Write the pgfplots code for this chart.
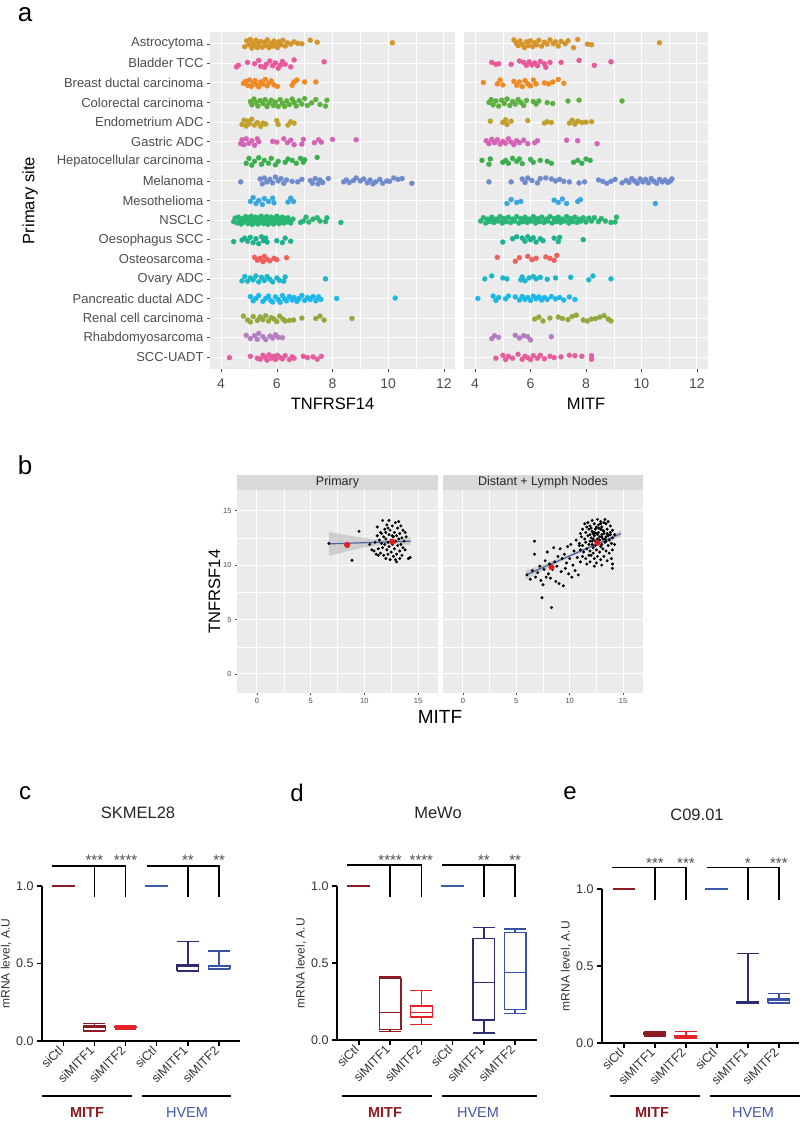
\documentclass[border=0pt]{standalone}
\usepackage{fontspec}
\setmainfont{Liberation Sans}
\usepackage{pgfplots}
\pgfplotsset{compat=1.18}
\newcommand{\fs}[1]{\fontsize{#1}{#1}\selectfont}

\definecolor{ggbg}{HTML}{EBEBEB}
\definecolor{ggstrip}{HTML}{D9D9D9}
\definecolor{gg30}{HTML}{4D4D4D}
\definecolor{cAst}{HTML}{D4962A}
\definecolor{cBla}{HTML}{E9589A}
\definecolor{cBre}{HTML}{EF8A22}
\definecolor{cCol}{HTML}{5DAF40}
\definecolor{cEnd}{HTML}{C2A02C}
\definecolor{cGas}{HTML}{D563B5}
\definecolor{cHep}{HTML}{3DAE4F}
\definecolor{cMel}{HTML}{6F8BCB}
\definecolor{cMes}{HTML}{3BA6DD}
\definecolor{cNSC}{HTML}{2BB574}
\definecolor{cOes}{HTML}{1FB08F}
\definecolor{cOst}{HTML}{EE6060}
\definecolor{cOva}{HTML}{1DB7C9}
\definecolor{cPan}{HTML}{1DB8E8}
\definecolor{cRen}{HTML}{92A93C}
\definecolor{cRha}{HTML}{B47FC1}
\definecolor{cSCC}{HTML}{E45E9E}
\definecolor{cMR}{HTML}{8B1C24}
\definecolor{cRed}{HTML}{E52229}
\definecolor{cBlu}{HTML}{3B5CAB}
\definecolor{cNav}{HTML}{2C2D70}
\definecolor{cBl2}{HTML}{3753A5}
\definecolor{cHV}{HTML}{4556A6}
\definecolor{cFit}{HTML}{4B64A0}
\definecolor{cPt}{HTML}{E41A1C}

\tikzset{br/.style={line width=1.4pt}}
\pgfplotsset{
  every axis/.append style={/pgf/number format/assume math mode=true},
  ggpanel/.style={anchor=north west, scale only axis,
    axis background/.style={fill=ggbg}, axis line style={draw=none},
    tick align=outside, tick pos=left, major tick length=3pt, minor tick length=0pt,
    tick style={gg30, line width=0.5pt},
    major grid style={white, line width=1pt}, minor grid style={white, line width=0.45pt},
    ticklabel style={text=gg30}},
  jit/.style={only marks, mark=*, mark size=2.5pt, mark options={line width=0.3pt}},
  gp/.style={anchor=north west, scale only axis, clip=false,
    axis x line=bottom, axis y line=left, axis line style={-, line width=1.3pt},
    xmin=0.32, xmax=6.67, ymin=0, ymax=1,
    ytick={0,0.5,1}, yticklabels={0.0,0.5,1.0},
    xtick={1,...,6}, xticklabels={siCtl,siMITF1,siMITF2,siCtl,siMITF1,siMITF2},
    tick align=outside, major tick length=5pt, tick style={black, line width=1.3pt},
    x tick label style={rotate=45, anchor=east, font=\fs{12.5}, text=black!80},
    y tick label style={font=\fs{12.5}, text=black!80},
    ylabel={mRNA level, A.U}, ylabel style={font=\fs{12}, text=black!80}, ylabel shift=-2pt},
  bx/.style={line width=1.3pt, mark=none},
  ctl/.style={line width=2pt, mark=none},
}
\newcommand{\stars}[2]{\node[font=\fs{15}, anchor=south, inner sep=0.5pt, text=gg30] at (axis cs:#1,1.13) {#2};}
% GraphPad-style box: colour, left, centre, right, min, q1, median, q3, max
\newcommand{\gbox}[9]{%
  \addplot[bx,#1] coordinates {(#2,#6)(#4,#6)(#4,#8)(#2,#8)} -- cycle;
  \addplot[bx,#1] coordinates {(#2,#7)(#4,#7)};
  \addplot[bx,#1] coordinates {(#3,#8)(#3,#9)};
  \addplot[bx,#1] coordinates {(#3,#6)(#3,#5)};
  \addplot[bx,#1] coordinates {(#2,#9)(#4,#9)};
  \addplot[bx,#1] coordinates {(#2,#5)(#4,#5)};}

\begin{document}
\begin{tikzpicture}
\fill[white] (0pt,0pt) rectangle (800pt,-1121pt);
\path[use as bounding box] (0pt,0pt) rectangle (800pt,-1121pt);

% ---------------- panel a ----------------
\begin{axis}[ggpanel, at={(210pt,-32pt)}, width=245pt, height=337pt,
  xmin=3.6, xmax=12.4, ymin=0.4, ymax=17.6, y dir=reverse,
  xtick={4,6,8,10,12}, minor xtick={5,7,9,11}, ytick={1,...,17},
  xmajorgrids, xminorgrids, ymajorgrids,
  yticklabels={Astrocytoma,Bladder TCC,Breast ductal carcinoma,Colorectal carcinoma,Endometrium ADC,Gastric ADC,Hepatocellular carcinoma,Melanoma,Mesothelioma,NSCLC,Oesophagus SCC,Osteosarcoma,Ovary ADC,Pancreatic ductal ADC,Renal cell carcinoma,Rhabdomyosarcoma,SCC-UADT},
  y tick label style={font=\fs{13}}, x tick label style={font=\fs{14}, yshift=-3pt},
  xlabel={TNFRSF14}, ylabel={Primary site}, ylabel shift=12pt,
  xlabel style={font=\fs{16.5}, yshift=-3pt}, ylabel style={font=\fs{16.5}}]
\addplot[jit, cAst] coordinates {(4.85,1.15)(4.92,0.85)(5.0,1.05)(5.05,0.78)(5.1,1.22)(5.15,0.95)(5.2,1.1)(5.25,0.82)(5.3,1.2)(5.35,1.0)(5.42,0.88)(5.48,1.18)(5.55,0.92)(5.6,1.08)(5.66,0.8)(5.72,1.2)(5.78,0.98)(5.85,1.12)(5.9,0.86)(5.96,1.02)(6.02,1.2)(6.08,0.9)(6.15,1.05)(6.22,0.82)(6.3,1.12)(6.38,0.95)(6.5,1.02)(6.62,0.9)(6.75,0.98)(6.9,1.0)(7.2,0.82)(7.45,0.92)(10.15,0.95)};
\addplot[jit, cBla] coordinates {(4.55,2.18)(4.62,2.1)(4.95,1.95)(5.2,2.02)(5.35,1.85)(5.42,2.15)(5.55,2.2)(5.62,2.05)(5.75,1.88)(5.85,2.12)(5.95,1.98)(6.05,2.25)(6.12,2.1)(6.2,1.9)(6.3,2.05)(6.5,2.18)(6.62,1.82)(7.7,1.92)};
\addplot[jit, cBre] coordinates {(4.8,3.02)(4.88,2.92)(4.95,3.12)(5.02,2.85)(5.08,3.18)(5.15,3.0)(5.22,2.88)(5.28,3.1)(5.35,3.2)(5.42,2.95)(5.5,3.05)(5.58,2.82)(5.65,3.15)(5.72,3.0)(5.8,2.9)(5.9,3.1)(6.02,3.18)(6.55,3.12)(6.62,2.95)(6.72,2.85)(7.0,2.95)(7.4,2.95)};
\addplot[jit, cCol] coordinates {(5.05,3.95)(5.1,4.12)(5.18,3.82)(5.25,4.0)(5.32,4.18)(5.4,3.9)(5.5,4.05)(5.58,3.85)(5.65,4.2)(5.72,4.02)(5.8,3.88)(5.88,4.15)(5.95,3.98)(6.05,4.2)(6.12,3.85)(6.2,4.05)(6.28,4.2)(6.35,3.92)(6.45,4.1)(6.55,3.82)(6.62,4.0)(6.7,4.18)(6.8,3.9)(6.9,4.08)(7.0,3.8)(7.1,4.15)(7.25,4.02)(7.4,3.85)(7.55,4.1)(7.75,4.18)(7.8,3.88)};
\addplot[jit, cEnd] coordinates {(4.75,5.12)(4.82,4.9)(4.9,5.2)(4.95,4.95)(5.02,5.08)(5.1,4.85)(5.2,5.15)(5.3,5.02)(5.42,5.22)(5.5,5.05)(5.6,5.1)(6.0,4.92)(6.05,5.12)(6.4,5.15)(6.5,4.98)(6.62,5.05)};
\addplot[jit, cGas] coordinates {(4.7,6.1)(4.75,5.9)(4.82,6.15)(4.9,5.85)(5.0,6.08)(5.1,5.95)(5.2,6.18)(5.3,5.85)(5.35,6.0)(5.85,5.98)(6.0,6.02)(6.25,5.85)(6.38,6.05)(6.5,5.92)(6.62,6.15)(6.9,6.12)(6.95,5.88)(7.35,6.05)(7.5,5.9)(7.6,6.02)(8.0,5.88)(8.85,5.9)};
\addplot[jit, cHep] coordinates {(4.9,7.1)(5.0,6.85)(5.1,7.2)(5.2,7.0)(5.35,6.82)(5.45,7.15)(5.55,6.95)(5.7,7.1)(5.8,6.85)(5.95,7.18)(6.05,7.0)(6.3,7.05)(6.4,6.88)(6.55,6.95)(6.7,7.1)(6.85,6.85)(6.95,7.05)(7.0,6.92)(7.45,6.8)};
\addplot[jit, cMel] coordinates {(4.7,8.05)(5.4,7.9)(5.48,8.15)(5.55,7.85)(5.65,8.05)(5.75,7.92)(5.85,8.1)(5.95,7.8)(6.05,8.0)(6.15,7.88)(6.25,8.12)(6.35,7.95)(6.55,8.02)(6.75,8.05)(6.9,7.92)(7.2,7.98)(7.28,8.12)(7.38,7.88)(7.48,8.15)(7.55,7.95)(7.65,8.08)(7.85,7.88)(8.4,8.05)(8.5,7.95)(8.6,8.08)(8.75,7.98)(8.85,7.85)(9.0,8.0)(9.12,7.9)(9.25,8.1)(9.35,7.95)(9.45,8.15)(9.55,8.05)(9.7,7.92)(9.8,8.12)(9.95,8.0)(10.05,8.02)(10.2,7.85)(10.35,7.92)(10.5,7.88)(10.85,8.12)};
\addplot[jit, cMes] coordinates {(5.05,9.05)(5.15,8.85)(5.25,9.15)(5.35,9.0)(5.48,9.2)(5.55,8.9)(5.7,9.05)(5.85,8.88)(5.9,9.12)(6.4,9.08)(6.5,8.88)(6.6,9.05)};
\addplot[jit, cNSC] coordinates {(4.45,10.08)(4.5,9.9)(4.58,10.15)(4.62,9.85)(4.68,10.02)(4.72,10.2)(4.78,9.92)(4.82,10.1)(4.88,9.82)(4.92,10.0)(4.96,10.18)(5.0,9.88)(5.04,10.08)(5.08,9.8)(5.12,10.22)(5.16,9.95)(5.2,10.12)(5.24,9.85)(5.28,10.02)(5.32,10.2)(5.36,9.9)(5.4,10.1)(5.44,9.8)(5.48,10.0)(5.52,10.18)(5.56,9.9)(5.6,10.08)(5.64,9.82)(5.68,10.22)(5.72,9.95)(5.76,10.12)(5.8,9.85)(5.84,10.02)(5.88,10.2)(5.92,9.9)(5.96,10.1)(6.0,9.8)(6.04,10.0)(6.08,10.18)(6.12,9.9)(6.16,10.08)(6.2,9.85)(6.25,10.15)(6.3,9.95)(6.35,10.1)(6.4,9.88)(6.45,10.05)(6.5,10.15)(6.58,9.95)(6.85,10.12)(6.95,10.05)(7.05,9.85)(7.15,10.1)(7.3,9.95)(7.45,9.88)(7.55,10.05)(7.75,10.08)(7.8,9.88)(8.3,10.12)(4.9,10.05)(5.1,9.95)(5.3,10.05)(5.5,9.95)(5.7,10.05)(5.9,10.0)(6.1,10.02)(6.3,10.0)};
\addplot[jit, cOes] coordinates {(4.45,11.1)(4.75,11.02)(4.85,10.92)(4.95,11.08)(5.05,10.88)(5.15,11.15)(5.25,10.95)(5.35,11.2)(5.45,10.85)(5.52,11.05)(5.6,10.92)(5.65,11.12)(6.0,11.05)(6.2,11.15)(6.3,10.92)(6.5,11.08)};
\addplot[jit, cOst] coordinates {(5.2,11.9)(5.3,12.05)(5.4,11.95)(5.5,12.12)(5.55,11.85)(5.65,12.0)(5.75,12.08)(5.9,11.95)(6.0,12.02)(6.35,11.92)};
\addplot[jit, cOva] coordinates {(4.75,13.1)(4.85,12.88)(4.95,13.12)(5.05,12.95)(5.15,13.05)(5.25,12.85)(5.35,13.15)(5.45,12.92)(5.55,13.08)(5.65,12.88)(5.75,13.02)(5.85,13.15)(6.0,12.95)(6.1,13.08)(6.25,13.12)(6.3,12.9)(7.75,13.0)};
\addplot[jit, cPan] coordinates {(5.05,13.9)(5.15,14.12)(5.25,14.0)(5.35,13.85)(5.5,14.15)(5.6,14.0)(5.7,13.88)(5.78,14.1)(5.85,14.18)(5.95,13.92)(6.05,14.05)(6.12,14.2)(6.2,13.85)(6.28,14.02)(6.35,14.12)(6.45,13.9)(6.55,14.08)(6.62,13.95)(6.72,14.15)(6.8,14.0)(6.9,13.85)(7.0,14.1)(7.1,13.95)(7.2,14.05)(7.3,13.9)(7.4,14.12)(7.5,13.92)(7.58,14.05)(8.15,14.0)(10.25,13.98)};
\addplot[jit, cRen] coordinates {(4.8,14.9)(4.95,15.1)(5.05,15.2)(5.15,14.92)(5.3,15.12)(5.4,14.95)(5.5,15.08)(5.6,14.88)(5.7,15.15)(5.8,14.98)(5.9,15.05)(6.0,15.18)(6.1,14.9)(6.22,15.05)(6.3,15.15)(6.45,15.12)(6.6,15.1)(6.9,15.0)(7.4,15.02)(7.55,14.9)(7.7,15.1)(8.7,15.02)};
\addplot[jit, cRha] coordinates {(4.9,15.88)(5.05,16.05)(5.2,15.9)(5.3,16.08)(5.35,15.78)(5.5,15.95)(5.6,16.1)(5.75,15.92)(5.85,16.02)(5.95,15.85)(6.05,15.98)(6.2,16.0)};
\addplot[jit, cSCC] coordinates {(4.3,17.02)(5.05,16.95)(5.3,17.05)(5.4,17.1)(5.5,16.9)(5.58,17.0)(5.65,17.15)(5.72,16.88)(5.8,17.05)(5.88,16.95)(5.95,17.12)(6.02,16.9)(6.1,17.0)(6.2,17.08)(6.3,16.92)(6.45,17.12)(6.55,16.98)(6.62,17.05)(6.95,16.95)(7.1,17.02)(7.3,16.98)(7.45,17.1)(7.6,16.95)};
\end{axis}

\begin{axis}[ggpanel, at={(464pt,-32pt)}, width=244pt, height=337pt,
  xmin=3.6, xmax=12.4, ymin=0.4, ymax=17.6, y dir=reverse,
  xtick={4,6,8,10,12}, minor xtick={5,7,9,11}, ytick={1,...,17}, yticklabels={},
  y tick style={draw=none},
  xmajorgrids, xminorgrids, ymajorgrids,
  x tick label style={font=\fs{14}, yshift=-3pt},
  xlabel={MITF}, xlabel style={font=\fs{16.5}, yshift=-3pt}]
\addplot[jit, cAst] coordinates {(5.4,0.8)(5.48,0.95)(5.55,1.1)(5.62,0.85)(5.7,1.05)(5.78,1.2)(5.85,0.9)(5.92,1.08)(6.0,0.85)(6.08,1.15)(6.15,0.95)(6.22,1.05)(6.3,0.82)(6.4,1.12)(6.5,0.92)(6.6,1.02)(6.7,0.8)(6.82,1.0)(6.9,0.9)(7.0,1.12)(7.1,0.88)(7.25,1.0)(7.35,0.85)(7.55,1.2)(7.7,0.78)(8.05,1.02)(8.2,1.05)(10.65,0.95)};
\addplot[jit, cBla] coordinates {(4.6,1.95)(4.75,2.05)(4.85,2.02)(5.3,2.05)(5.6,1.88)(5.75,1.95)(5.85,2.1)(5.95,1.92)(6.05,2.08)(6.15,1.98)(6.25,2.12)(6.35,1.9)(6.5,2.02)(6.7,1.95)(6.55,2.2)(7.1,1.95)(7.75,1.85)(8.3,2.1)(8.9,1.92)};
\addplot[jit, cBre] coordinates {(4.3,2.98)(4.8,3.05)(4.9,2.85)(5.0,3.1)(5.4,2.92)(5.5,3.12)(5.6,2.95)(5.7,3.18)(5.8,2.88)(5.9,3.05)(6.0,3.15)(6.1,2.85)(6.2,3.05)(6.5,3.0)(6.65,3.05)(6.8,2.95)(7.0,2.82)(7.2,3.02)};
\addplot[jit, cCol] coordinates {(4.5,4.0)(4.58,3.85)(4.65,4.12)(4.75,3.92)(4.85,4.18)(4.95,3.88)(5.05,4.05)(5.15,3.82)(5.25,4.15)(5.35,3.95)(5.45,4.08)(5.55,3.85)(5.65,4.0)(5.75,4.15)(5.85,3.9)(6.1,3.95)(6.2,4.08)(6.3,3.92)(6.6,4.0)(6.8,4.05)(7.35,3.92)(7.75,3.88)(9.3,3.92)};
\addplot[jit, cEnd] coordinates {(4.55,4.95)(5.0,5.02)(5.1,4.88)(5.15,5.12)(5.3,4.95)(5.9,4.92)(6.5,5.05)(6.6,4.98)(6.75,5.02)(7.4,5.05)(7.5,4.9)(7.6,5.1)(7.7,4.95)(7.85,5.02)(8.0,5.0)(8.2,4.98)};
\addplot[jit, cGas] coordinates {(4.4,5.95)(4.5,6.1)(4.6,5.88)(4.7,6.05)(4.8,5.9)(4.9,6.12)(5.0,5.98)(5.1,6.08)(5.2,5.85)(5.3,6.02)(5.4,6.15)(5.5,5.95)(5.6,6.05)(5.75,5.92)(5.9,6.1)(6.15,6.05)(6.25,5.95)(7.3,5.92)(7.7,5.95)(8.4,6.1)};
\addplot[jit, cHep] coordinates {(4.25,6.95)(4.5,7.15)(4.55,6.88)(5.0,7.05)(5.1,6.95)(5.2,7.1)(5.35,6.85)(5.5,7.0)(5.6,6.88)(5.7,7.12)(6.0,6.9)(6.1,7.05)(6.35,6.95)(6.6,7.0)(6.75,7.1)(7.55,7.05)(7.7,6.95)(7.85,7.1)(8.0,6.88)(8.15,6.95)};
\addplot[jit, cMel] coordinates {(4.5,8.05)(5.3,8.05)(5.7,7.9)(5.8,8.08)(5.9,7.85)(6.05,7.98)(6.25,8.1)(6.35,7.88)(6.55,7.85)(6.75,7.9)(6.9,8.0)(7.05,7.92)(7.2,8.02)(7.4,8.05)(7.75,8.1)(7.95,8.05)(8.45,7.95)(8.6,8.02)(8.75,8.12)(8.9,8.02)(9.05,7.92)(9.3,8.1)(9.45,7.98)(9.55,8.08)(9.65,7.88)(9.75,8.0)(9.85,8.12)(9.95,7.9)(10.05,8.05)(10.15,7.92)(10.25,8.1)(10.35,7.88)(10.45,8.02)(10.55,8.12)(10.65,7.92)(10.75,8.05)(10.85,7.95)(10.95,8.08)(11.05,8.0)(11.1,7.9)};
\addplot[jit, cMes] coordinates {(5.15,9.15)(5.3,8.95)(5.5,9.1)(5.65,9.05)(6.85,8.98)(7.0,9.1)(7.15,8.92)(7.3,9.15)(7.7,9.05)(7.8,8.95)(10.5,9.15)};
\addplot[jit, cNSC] coordinates {(4.2,10.05)(4.3,9.88)(4.38,10.15)(4.45,9.95)(4.52,10.08)(4.6,9.85)(4.68,10.12)(4.75,9.95)(4.82,10.05)(4.9,9.82)(4.98,10.15)(5.05,9.92)(5.12,10.08)(5.2,9.85)(5.28,10.12)(5.35,9.95)(5.42,10.05)(5.5,9.82)(5.58,10.15)(5.65,9.92)(5.72,10.08)(5.8,9.85)(5.88,10.12)(5.95,9.95)(6.02,10.05)(6.1,9.82)(6.18,10.15)(6.25,9.92)(6.32,10.08)(6.4,9.85)(6.48,10.12)(6.55,9.95)(6.62,10.05)(6.7,9.82)(6.78,10.15)(6.85,9.92)(6.92,10.08)(7.0,9.85)(7.08,10.12)(7.15,9.95)(7.22,10.05)(7.3,9.82)(7.38,10.15)(7.45,9.92)(7.52,10.08)(7.6,9.85)(7.68,10.12)(7.75,9.95)(7.82,10.05)(7.9,9.88)(8.0,10.1)(8.1,9.9)(8.2,10.05)(8.3,9.88)(8.45,10.08)(8.55,9.92)(8.7,10.05)(8.9,10.12)(9.05,10.1)(9.1,9.85)(4.6,10.0)(5.0,10.02)(5.4,9.98)(5.8,10.02)(6.2,9.98)(6.6,10.0)(7.0,10.02)(7.4,10.0)};
\addplot[jit, cOes] coordinates {(5.0,11.12)(5.35,10.95)(5.5,10.85)(5.7,10.92)(5.8,11.08)(5.9,10.85)(6.0,11.0)(6.1,10.9)(6.2,11.12)(6.35,10.95)(6.45,11.05)(6.85,10.92)(7.0,11.1)(7.05,10.88)(7.9,11.0)};
\addplot[jit, cOst] coordinates {(4.8,11.9)(5.45,12.1)(5.6,11.92)(5.9,11.85)(6.05,12.02)(6.2,11.95)(6.55,11.88)(6.7,11.95)(6.85,12.05)(6.95,11.8)};
\addplot[jit, cOva] coordinates {(4.35,13.0)(4.6,12.85)(5.0,12.95)(5.15,13.0)(5.65,13.05)(5.7,12.9)(5.8,13.1)(5.95,12.95)(6.1,12.88)(6.2,13.0)(6.35,12.92)(6.6,13.02)(6.9,12.95)(7.45,12.92)(8.1,13.05)(8.25,12.85)(8.9,13.0)};
\addplot[jit, cPan] coordinates {(4.1,14.0)(4.65,13.88)(4.75,14.1)(4.85,13.95)(5.1,14.02)(5.2,13.88)(5.45,13.92)(5.6,14.08)(5.7,13.9)(5.8,14.05)(5.9,13.95)(6.0,14.1)(6.1,13.88)(6.2,14.02)(6.3,13.92)(6.4,14.08)(6.5,13.95)(6.6,14.05)(6.75,13.9)(6.9,14.02)(7.05,13.95)(7.2,14.08)(7.4,13.92)(7.6,14.05)};
\addplot[jit, cRen] coordinates {(6.15,15.05)(6.3,14.95)(6.45,15.15)(6.7,15.0)(7.0,14.95)(7.15,15.02)(7.35,15.08)(7.5,14.92)(7.65,14.85)(7.9,15.1)(8.05,15.15)(8.2,15.05)(8.35,15.02)(8.5,14.95)(8.65,14.88)(8.8,15.05)(8.9,15.15)};
\addplot[jit, cRha] coordinates {(4.6,16.05)(4.7,15.9)(4.85,15.98)(5.45,15.88)(5.6,16.02)(5.75,15.9)(5.9,15.95)(6.0,16.12)(6.75,15.95)};
\addplot[jit, cSCC] coordinates {(4.75,17.05)(5.0,16.9)(5.1,17.12)(5.2,16.95)(5.35,17.05)(5.55,16.85)(5.7,17.1)(5.8,16.95)(5.9,17.02)(6.0,17.12)(6.1,16.92)(6.25,17.05)(6.35,16.9)(6.5,17.08)(6.7,16.95)(6.85,17.02)(7.1,16.98)(7.4,16.9)(7.6,16.92)(7.85,16.95)(8.2,17.1)(8.2,16.92)};
\end{axis}

% ---------------- panel b ----------------
\begin{axis}[ggpanel, at={(237pt,-490pt)}, width=201pt, height=203pt,
  xmin=-1.86, xmax=16.86, ymin=-1.75, ymax=16.9,
  xtick={0,5,10,15}, ytick={0,5,10,15}, minor xtick={2.5,7.5,12.5}, minor ytick={2.5,7.5,12.5},
  grid=both, major tick length=2pt, ticklabel style={font=\fs{7.5}},
  ylabel={TNFRSF14}, ylabel style={font=\fs{16.5}}, ylabel shift=-4pt]
\addplot[fill=gray!55, fill opacity=0.6, draw=none] coordinates {(6.7,13.05)(8,12.81)(9,12.65)(10,12.50)(11,12.39)(12,12.32)(13,12.36)(14.3,12.56)(14.3,11.84)(13,11.96)(12,11.92)(11,11.79)(10,11.62)(9,11.41)(8,11.17)(6.7,10.85)} -- cycle;
\addplot[only marks, mark=*, mark size=1.3pt, black] coordinates {(6.7,12.0)(8.85,10.45)(9.5,13.1)(14.25,10.7)(14.1,10.6)(10.9,11.3)(11.0,12.1)(11.1,11.0)(11.2,12.7)(11.2,13.5)(11.3,11.5)(11.4,12.3)(11.5,11.1)(11.5,13.0)(11.6,12.0)(11.7,14.1)(11.7,11.6)(11.8,12.6)(11.8,10.9)(11.9,13.3)(11.9,11.9)(12.0,12.4)(12.0,10.6)(12.1,11.4)(12.1,13.7)(12.2,12.1)(12.2,11.0)(12.3,12.8)(12.3,14.1)(12.3,11.7)(12.4,13.2)(12.4,10.5)(12.5,12.3)(12.5,11.2)(12.6,13.6)(12.6,11.9)(12.7,12.6)(12.7,10.8)(12.8,13.0)(12.8,11.5)(12.9,12.2)(12.9,13.9)(13.0,11.0)(13.0,12.7)(13.0,10.3)(13.1,13.4)(13.1,11.8)(13.2,12.4)(13.2,14.0)(13.3,11.3)(13.3,12.9)(13.4,13.6)(13.4,11.9)(13.5,12.5)(13.5,10.9)(13.6,13.2)(13.6,11.6)(13.7,12.2)(13.8,13.0)(13.8,11.4)(13.9,12.6)(12.0,13.0)(11.6,12.9)(12.6,12.7)(12.2,13.4)(10.7,11.4)(10.5,11.9)(11.3,10.9)(12.9,10.5)(13.3,10.6)};
\addplot[cFit, line width=1.2pt, mark=none] coordinates {(6.7,11.95)(14.3,12.2)};
\addplot[only marks, mark=*, mark size=2.8pt, cPt] coordinates {(8.4,11.85)(12.6,12.15)};
\end{axis}
\begin{axis}[ggpanel, at={(443pt,-490pt)}, width=200pt, height=203pt,
  xmin=-1.86, xmax=16.86, ymin=-1.75, ymax=16.9,
  xtick={0,5,10,15}, ytick={0,5,10,15}, minor xtick={2.5,7.5,12.5}, minor ytick={2.5,7.5,12.5},
  grid=both, major tick length=2pt, ticklabel style={font=\fs{7.5}},
  yticklabels={}, y tick style={draw=none}]
\addplot[fill=gray!55, fill opacity=0.6, draw=none] coordinates {(5.9,9.5)(8,10.25)(10,11.0)(12,11.82)(13.5,12.53)(14.8,13.2)(14.8,12.6)(13.5,12.17)(12,11.58)(10,10.7)(8,9.75)(5.9,8.7)} -- cycle;
\addplot[only marks, mark=*, mark size=1.3pt, black] coordinates {(6.0,9.1)(6.3,8.7)(6.5,9.5)(6.7,12.2)(6.7,11.0)(6.8,8.9)(7.0,9.3)(7.2,9.9)(7.3,8.6)(7.4,7.0)(7.5,8.2)(7.6,9.6)(7.7,10.4)(7.8,8.9)(7.9,11.2)(8.0,9.2)(8.1,10.1)(8.2,8.8)(8.3,6.1)(8.4,9.6)(8.5,11.6)(8.6,10.3)(8.7,8.5)(8.8,9.9)(8.9,10.8)(9.0,8.3)(9.1,11.5)(9.2,9.4)(9.3,10.6)(9.4,8.1)(9.5,11.0)(9.6,9.7)(9.7,10.2)(9.8,11.7)(9.9,9.2)(10.0,10.6)(10.1,11.9)(10.2,8.9)(10.3,10.0)(10.4,11.3)(10.5,9.5)(10.6,12.3)(10.7,10.7)(10.8,9.1)(10.9,11.8)(11.0,10.3)(11.0,12.9)
(12.1,14.1)(12.6,14.2)(12.9,14.0)(13.3,14.2)(13.6,14.0)(11.7,13.9)
(11.4,13.8)(11.9,13.6)(12.3,13.8)(12.7,13.7)(13.0,13.5)(13.4,13.8)(13.8,13.6)(12.5,13.5)(13.2,13.9)(11.6,13.5)
(11.2,13.3)(11.5,13.0)(11.8,13.3)(12.1,13.1)(12.4,13.3)(12.7,13.0)(12.9,13.3)(13.2,13.1)(13.5,13.3)(13.8,13.0)(14.0,13.2)(12.2,12.9)(13.0,12.8)(13.6,12.7)
(11.1,12.6)(11.4,12.4)(11.7,12.7)(12.0,12.5)(12.3,12.7)(12.6,12.4)(12.8,12.6)(13.1,12.4)(13.4,12.6)(13.7,12.3)(14.0,12.5)(14.2,12.8)(11.9,12.2)(12.5,12.9)
(10.9,12.0)(11.2,11.8)(11.5,12.1)(11.8,11.9)(12.1,12.2)(12.4,11.8)(12.7,12.1)(13.0,11.9)(13.3,12.1)(13.6,11.8)(13.9,12.0)(14.2,11.9)(12.2,11.6)(12.9,11.7)
(11.0,11.4)(11.3,11.2)(11.6,11.5)(11.9,11.3)(12.2,11.1)(12.5,11.4)(12.8,11.2)(13.1,11.5)(13.4,11.3)(13.7,11.1)(14.0,11.4)(12.0,10.9)(12.6,10.8)
(11.2,10.8)(11.5,10.6)(11.8,10.9)(12.3,10.6)(12.9,10.5)(13.2,10.8)(13.5,10.4)(13.9,10.6)(11.9,10.3)(12.5,10.2)(14.0,10.1)(13.0,10.0)(11.6,10.1)(14.0,9.7)(12.3,9.9)
(12.2,12.4)(12.4,12.2)(12.6,12.8)(12.8,12.3)(13.0,12.6)(13.2,12.9)(12.3,13.0)(12.7,13.4)(13.1,13.2)(13.3,12.4)(12.0,13.4)(12.9,13.8)(12.5,12.0)(13.5,12.9)(12.1,11.9)(11.9,12.8)(13.8,12.8)(13.4,12.2)};
\addplot[cFit, line width=1.2pt, mark=none] coordinates {(5.9,9.1)(14.8,12.9)};
\addplot[only marks, mark=*, mark size=2.8pt, cPt] coordinates {(8.3,9.8)(12.6,12.05)};
\end{axis}

% ---------------- panels c, d, e ----------------
\begin{axis}[gp, at={(42pt,-886pt)}, width=198pt, height=155pt]
\addplot[ctl, cMR] coordinates {(0.63,1)(1.37,1)};
\addplot[ctl, cBlu] coordinates {(3.63,1)(4.37,1)};
\gbox{cMR}{1.65}{2}{2.35}{0.06}{0.07}{0.09}{0.10}{0.115}
\gbox{cRed}{2.65}{3}{3.35}{0.078}{0.085}{0.09}{0.095}{0.10}
\gbox{cNav}{4.65}{5}{5.35}{0.45}{0.455}{0.48}{0.49}{0.64}
\gbox{cBl2}{5.65}{6}{6.35}{0.465}{0.47}{0.48}{0.485}{0.58}
\draw[br] (axis cs:0.65,1.13) -- (axis cs:3,1.13) -- (axis cs:3,0.93);
\draw[br] (axis cs:2,1.13) -- (axis cs:2,0.93);
\draw[br] (axis cs:3.7,1.13) -- (axis cs:6,1.13) -- (axis cs:6,0.93);
\draw[br] (axis cs:5,1.13) -- (axis cs:5,0.93);
\stars{2}{***}\stars{3}{****}\stars{5}{**}\stars{6}{**}
\end{axis}

\begin{axis}[gp, at={(337pt,-886pt)}, width=200pt, height=154pt, xmin=0.3, xmax=6.7]
\addplot[ctl, cMR] coordinates {(0.63,1)(1.37,1)};
\addplot[ctl, cBlu] coordinates {(3.63,1)(4.37,1)};
\gbox{cMR}{1.65}{2}{2.35}{0.055}{0.07}{0.18}{0.40}{0.41}
\gbox{cRed}{2.65}{3}{3.35}{0.10}{0.15}{0.18}{0.22}{0.32}
\gbox{cNav}{4.65}{5}{5.35}{0.045}{0.13}{0.375}{0.66}{0.73}
\gbox{cBl2}{5.65}{6}{6.35}{0.17}{0.20}{0.44}{0.70}{0.72}
\draw[br] (axis cs:0.62,1.136) -- (axis cs:3,1.136) -- (axis cs:3,0.93);
\draw[br] (axis cs:2,1.136) -- (axis cs:2,0.93);
\draw[br] (axis cs:3.66,1.136) -- (axis cs:6,1.136) -- (axis cs:6,0.93);
\draw[br] (axis cs:5,1.136) -- (axis cs:5,0.93);
\stars{2}{****}\stars{3}{****}\stars{5}{**}\stars{6}{**}
\end{axis}

\begin{axis}[gp, at={(602pt,-889pt)}, width=197pt, height=154pt, xmin=0.29, xmax=6.65]
\addplot[ctl, cMR] coordinates {(0.63,1)(1.37,1)};
\addplot[ctl, cBlu] coordinates {(3.63,1)(4.37,1)};
\gbox{cMR}{1.65}{2}{2.35}{0.045}{0.055}{0.065}{0.07}{0.075}
\gbox{cRed}{2.65}{3}{3.35}{0.03}{0.035}{0.04}{0.05}{0.077}
\gbox{cNav}{4.65}{5}{5.35}{0.255}{0.26}{0.265}{0.27}{0.58}
\gbox{cBl2}{5.65}{6}{6.35}{0.255}{0.265}{0.28}{0.29}{0.32}
\draw[br] (axis cs:0.61,1.14) -- (axis cs:3,1.14) -- (axis cs:3,0.93);
\draw[br] (axis cs:2,1.14) -- (axis cs:2,0.93);
\draw[br] (axis cs:3.68,1.14) -- (axis cs:6,1.14) -- (axis cs:6,0.93);
\draw[br] (axis cs:5,1.14) -- (axis cs:5,0.93);
\stars{2}{***}\stars{3}{***}\stars{5}{*}\stars{6}{***}
\end{axis}

\begin{scope}[x=1pt,y=1pt]
\node[font=\fs{26}] at (25,-15) {a};
\node[font=\fs{26}] at (25,-465) {b};
\fill[ggstrip] (237,-475) rectangle (438,-490);
\fill[ggstrip] (443,-475) rectangle (643,-490);
\node[font=\fs{12.5}, text=black!85] at (337.5,-482.5) {Primary};
\node[font=\fs{12.5}, text=black!85] at (543,-482.5) {Distant + Lymph Nodes};
\node[font=\fs{19}] at (440,-717) {MITF};
\node[font=\fs{24}] at (25,-793) {c};
\node[font=\fs{24}] at (297,-793) {d};
\node[font=\fs{24}] at (570,-793) {e};
\node[font=\fs{16.5}, text=black!85] at (138,-813) {SKMEL28};
\node[font=\fs{16.5}, text=black!85] at (438,-813) {MeWo};
\node[font=\fs{16.5}, text=black!85] at (697,-815) {C09.01};
\draw[line width=1.4pt] (42,-1096) -- (132,-1096);
\draw[line width=1.4pt] (142,-1096) -- (231,-1096);
\draw[line width=1.4pt] (342,-1096) -- (432,-1096);
\draw[line width=1.4pt] (442,-1096) -- (537,-1096);
\draw[line width=1.4pt] (610,-1096) -- (700,-1096);
\draw[line width=1.4pt] (710,-1096) -- (800,-1096);
\node[font=\fs{14.5}\bfseries, text=cMR] at (87,-1112) {MITF};
\node[font=\fs{14.5}, text=cHV] at (187,-1112) {HVEM};
\node[font=\fs{14.5}\bfseries, text=cMR] at (385,-1112) {MITF};
\node[font=\fs{14.5}, text=cHV] at (478,-1112) {HVEM};
\node[font=\fs{14.5}\bfseries, text=cMR] at (652,-1112) {MITF};
\node[font=\fs{14.5}, text=cHV] at (753,-1112) {HVEM};
\end{scope}
\end{tikzpicture}
\end{document}
